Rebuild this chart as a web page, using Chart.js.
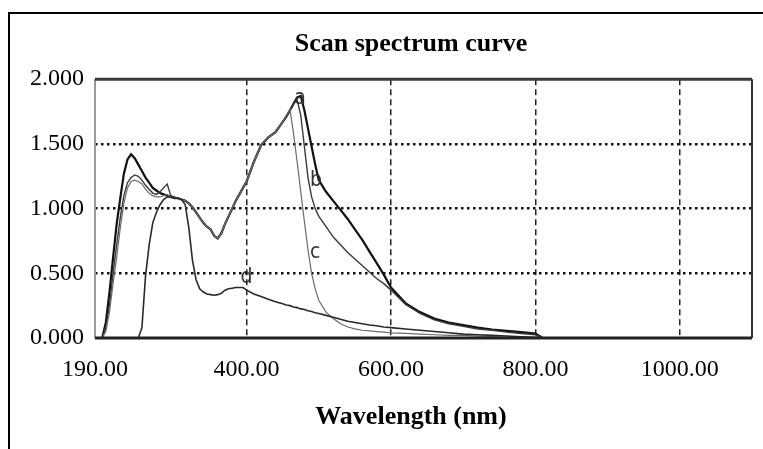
<!DOCTYPE html>
<html><head><meta charset="utf-8">
<script src="https://cdn.jsdelivr.net/npm/chart.js@4"></script>
<style>html,body{margin:0;padding:0;background:#fff}#wrap{width:763px;height:449px;position:relative}</style>
</head><body><div id="wrap"><canvas id="c" width="763" height="449"></canvas></div>
<script>
// ---- data ----
const wavelengths = [190,200,205,210,215,220,225,230,235,240,245,250,255,260,265,270,275,280,285,290,295,300,305,310,315,320,325,330,335,340,345,350,355,360,365,370,375,380,385,390,395,400,410,420,430,440,450,455,460,465,470,475,480,485,490,495,500,510,520,530,540,550,560,570,580,590,600,620,640,660,680,700,720,740,760,780,800,810,900,1000,1100];
const curveA = [0,0,0.12,0.35,0.62,0.88,1.08,1.27,1.38,1.42,1.39,1.34,1.29,1.24,1.20,1.16,1.14,1.12,1.11,1.10,1.09,1.08,1.08,1.07,1.06,1.04,1.01,0.97,0.93,0.89,0.86,0.84,0.79,0.77,0.81,0.88,0.94,1.00,1.06,1.11,1.16,1.21,1.36,1.49,1.55,1.59,1.67,1.71,1.76,1.81,1.86,1.87,1.76,1.62,1.48,1.34,1.22,1.13,1.06,0.99,0.92,0.84,0.76,0.67,0.58,0.49,0.39,0.27,0.20,0.15,0.12,0.10,0.08,0.065,0.055,0.045,0.035,0,0,0,0];
const curveB = [0,0,0.08,0.25,0.50,0.72,0.93,1.10,1.20,1.24,1.26,1.25,1.22,1.18,1.15,1.12,1.11,1.13,1.16,1.19,1.10,1.09,1.08,1.07,1.06,1.04,1.01,0.97,0.93,0.89,0.86,0.84,0.79,0.77,0.81,0.88,0.94,1.00,1.06,1.11,1.16,1.21,1.36,1.49,1.55,1.59,1.67,1.71,1.76,1.81,1.84,1.72,1.48,1.24,1.09,1.00,0.94,0.86,0.78,0.72,0.66,0.61,0.56,0.51,0.46,0.42,0.37,0.26,0.19,0.14,0.11,0.09,0.07,0.06,0.045,0.035,0.025,0,0,0,0];
const curveC = [0,0,0.05,0.20,0.42,0.62,0.85,1.04,1.16,1.21,1.22,1.21,1.19,1.15,1.12,1.10,1.09,1.09,1.10,1.11,1.09,1.08,1.08,1.07,1.06,1.04,1.01,0.97,0.93,0.89,0.86,0.84,0.79,0.77,0.81,0.88,0.94,1.00,1.06,1.11,1.16,1.21,1.36,1.49,1.55,1.59,1.67,1.72,1.77,1.58,1.36,1.13,0.90,0.68,0.50,0.38,0.29,0.20,0.15,0.11,0.085,0.07,0.06,0.055,0.05,0.045,0.04,0.035,0.03,0.025,0.02,0.02,0.015,0.01,0.005,0,0,0,0,0,0];
const curveD = [0,0,0,0,0,0,0,0,0,0,0,0,0.08,0.48,0.72,0.89,0.97,1.03,1.07,1.09,1.09,1.08,1.08,1.07,1.03,0.85,0.60,0.45,0.38,0.355,0.34,0.335,0.33,0.335,0.345,0.37,0.38,0.385,0.39,0.39,0.39,0.37,0.34,0.32,0.30,0.28,0.265,0.255,0.25,0.24,0.235,0.225,0.22,0.21,0.205,0.195,0.19,0.175,0.16,0.145,0.13,0.12,0.11,0.10,0.095,0.085,0.08,0.07,0.06,0.05,0.04,0.03,0.025,0.02,0.015,0.01,0.005,0,0,0,0];
const xTicks = [190,400,600,800,1000];
const yTicks = [0,0.5,1,1.5,2];
const curveNames = ['a','b','c','d'];
const nameWavelengths = [474,496,495,400];
const nameValues = [1.85,1.22,0.66,0.47];

const pts = arr => wavelengths.map((w,i)=>({x:w,y:arr[i]}));
const serif = "'Liberation Serif','Times New Roman',serif";

const framePlugin = {
  id:'frame',
  beforeDraw(chart){
    const ctx = chart.ctx; ctx.save();
    ctx.fillStyle='#fff'; ctx.fillRect(0,0,chart.width,chart.height);
    ctx.strokeStyle='#000'; ctx.lineWidth=2;
    ctx.beginPath(); ctx.moveTo(9,449); ctx.lineTo(9,13); ctx.lineTo(763,13); ctx.stroke();
    ctx.restore();
  },
  afterDatasetsDraw(chart){
    const ctx = chart.ctx, a = chart.chartArea; ctx.save();
    ctx.lineWidth=2; ctx.strokeStyle='#999';
    ctx.beginPath(); ctx.moveTo(a.left,a.top); ctx.lineTo(a.left,a.bottom); ctx.stroke();
    ctx.strokeStyle='#333';
    ctx.beginPath(); ctx.moveTo(a.right,a.top); ctx.lineTo(a.right,a.bottom); ctx.stroke();
    ctx.lineWidth=3; ctx.strokeStyle='#3a3a3a';
    ctx.beginPath(); ctx.moveTo(a.left,a.top); ctx.lineTo(a.right,a.top); ctx.stroke();
    ctx.strokeStyle='#222';
    ctx.beginPath(); ctx.moveTo(a.left,a.bottom); ctx.lineTo(a.right,a.bottom); ctx.stroke();
    // curve name labels
    const xs = chart.scales.x, ys = chart.scales.y;
    ctx.fillStyle='#333'; ctx.font="21px 'DejaVu Sans Condensed','DejaVu Sans',sans-serif";
    ctx.textAlign='center'; ctx.textBaseline='middle';
    curveNames.forEach((n,i)=>ctx.fillText(n, xs.getPixelForValue(nameWavelengths[i]), ys.getPixelForValue(nameValues[i])));
    ctx.restore();
  }
};

new Chart(document.getElementById('c'), {
  type:'line',
  data:{datasets:[
    {label:'d', data:pts(curveD), borderColor:'#2a2a2a', borderWidth:1.6},
    {label:'c', data:pts(curveC), borderColor:'#6a6a6a', borderWidth:1.2},
    {label:'b', data:pts(curveB), borderColor:'#3a3a3a', borderWidth:1.4},
    {label:'a', data:pts(curveA), borderColor:'#111', borderWidth:2.2}
  ]},
  options:{
    responsive:false, animation:false, devicePixelRatio:1, events:[],
    elements:{point:{radius:0}, line:{tension:0, fill:false}},
    layout:{padding:{left:70,right:11,top:0,bottom:0}},
    plugins:{
      legend:{display:false}, tooltip:{enabled:false},
      title:{display:true, text:'Scan spectrum curve', color:'#000', font:{family:serif,size:26,weight:'bold'}, padding:{top:29,bottom:19}},
      subtitle:{display:true, position:'bottom', text:'Wavelength (nm)', color:'#000', font:{family:serif,size:26,weight:'bold'}, padding:{top:10,bottom:16}}
    },
    scales:{
      x:{type:'linear', min:190, max:1100,
        afterBuildTicks:s=>{s.ticks = xTicks.map(v=>({value:v}));},
        afterFit:s=>{s.height = 449-338-(31.2+26); s.paddingLeft=0; s.paddingRight=0;},
        ticks:{callback:v=>Number(v).toFixed(2), color:'#000', font:{family:serif,size:24}, padding:17, maxRotation:0, autoSkip:false},
        grid:{color:c=>(c.tick && c.tick.value===190)?'rgba(0,0,0,0)':'#222', lineWidth:1.5, drawTicks:false},
        border:{display:false, dash:[6,4]}
      },
      y:{min:0, max:2,
        afterBuildTicks:s=>{s.ticks = yTicks.map(v=>({value:v}));},
        afterFit:s=>{s.width = 25;},
        ticks:{callback:v=>Number(v).toFixed(3), color:'#000', font:{family:serif,size:24}, mirror:true, crossAlign:'near', padding:-65},
        grid:{color:c=>(c.tick && (c.tick.value===0||c.tick.value===2))?'rgba(0,0,0,0)':'#111', lineWidth:2.5, drawTicks:false},
        border:{display:false, dash:[2.5,3.5]}
      }
    }
  },
  plugins:[framePlugin]
});
</script></body></html>
